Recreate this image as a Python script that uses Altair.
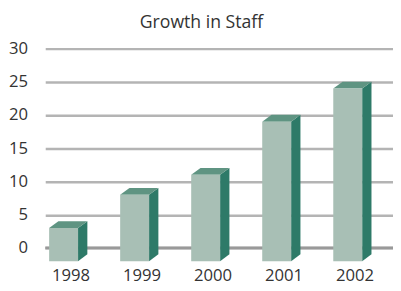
import altair as alt
import pandas as pd

years = ["1998", "1999", "2000", "2001", "2002"]
staff = [3, 8, 11, 19, 24]
y_ticks = [0, 5, 10, 15, 20, 25, 30]

# 3D look (in data units)
W = 0.407    # front face width (category units)
DX = 0.131   # depth offset x
DY = 1.03    # depth offset y
BASE = -2.0  # front face baseline

front_rows, side_rows, top_rows = [], [], []
for i, (yr, v) in enumerate(zip(years, staff)):
    front_rows.append({"x": i, "x2": i + W, "y": BASE, "y2": v, "year": yr})
    side_rows += [
        {"x": i + W, "y": v, "y2": BASE, "year": yr},
        {"x": i + W + DX, "y": v + DY, "y2": BASE + DY, "year": yr},
    ]
    top_rows += [
        {"x": i, "y": v, "y2": v, "year": yr},
        {"x": i + DX, "y": v, "y2": v + DY, "year": yr},
        {"x": i + W, "y": v, "y2": v + DY, "year": yr},
        {"x": i + W + DX, "y": v + DY, "y2": v + DY, "year": yr},
    ]

front = pd.DataFrame(front_rows)
side = pd.DataFrame(side_rows)
top = pd.DataFrame(top_rows)

xscale = alt.Scale(domain=[-0.055, 4.841], nice=False, zero=False)
yscale = alt.Scale(domain=[-2, 30], nice=False, zero=False)

label_pos = [i + 0.3 for i in range(len(years))]
label_expr = "['" + "','".join(years) + "'][round(datum.value - 0.3)]"

xaxis = alt.Axis(values=label_pos, labelExpr=label_expr, grid=False, domain=False,
                 ticks=False, title=None, labelFontSize=17, labelColor="#333333",
                 labelFont="Open Sans", labelPadding=7, labelOverlap=False)
yaxis = alt.Axis(values=y_ticks, grid=True, gridColor="#b4b4b4", gridWidth=2.5,
                 domain=False, ticks=False, title=None, labelFontSize=17,
                 labelColor="#333333", labelFont="Open Sans", labelPadding=18,
                 labelOverlap=False)

grid_base = alt.Chart(pd.DataFrame({"x": [0]})).mark_point(opacity=0).encode(
    x=alt.X("x:Q", scale=xscale, axis=xaxis),
    y=alt.Y("x:Q", scale=yscale, axis=yaxis),
)

zero_line = alt.Chart(pd.DataFrame({"y": [0]})).mark_rule(color="#999999", strokeWidth=3).encode(
    y=alt.Y("y:Q", scale=yscale, axis=yaxis)
)

side_layer = alt.Chart(side).mark_area(color="#2e7a68", interpolate="linear").encode(
    x=alt.X("x:Q", scale=xscale, axis=xaxis),
    y=alt.Y("y:Q", scale=yscale, axis=yaxis),
    y2="y2:Q",
    detail="year:N",
)

top_layer = alt.Chart(top).mark_area(color="#5f9482", interpolate="linear").encode(
    x=alt.X("x:Q", scale=xscale, axis=xaxis),
    y=alt.Y("y:Q", scale=yscale, axis=yaxis),
    y2="y2:Q",
    detail="year:N",
)

front_layer = alt.Chart(front).mark_rect(color="#a8bfb5").encode(
    x=alt.X("x:Q", scale=xscale, axis=xaxis),
    x2="x2:Q",
    y=alt.Y("y:Q", scale=yscale, axis=yaxis),
    y2="y2:Q",
)

chart = alt.layer(grid_base, zero_line, side_layer, top_layer, front_layer).properties(
    width=355,
    height=217,
    background="white",
    title=alt.TitleParams("Growth in Staff", fontSize=18, font="Open Sans",
                          fontWeight="normal", color="#333333", anchor="middle",
                          offset=8, dx=-18),
    padding={"left": 38, "top": 38.5, "right": 0, "bottom": 30},
    autosize="none",
).configure_view(strokeWidth=0, stroke=None)

chart.save("out.html", embed_options={"renderer": "svg", "actions": False})
